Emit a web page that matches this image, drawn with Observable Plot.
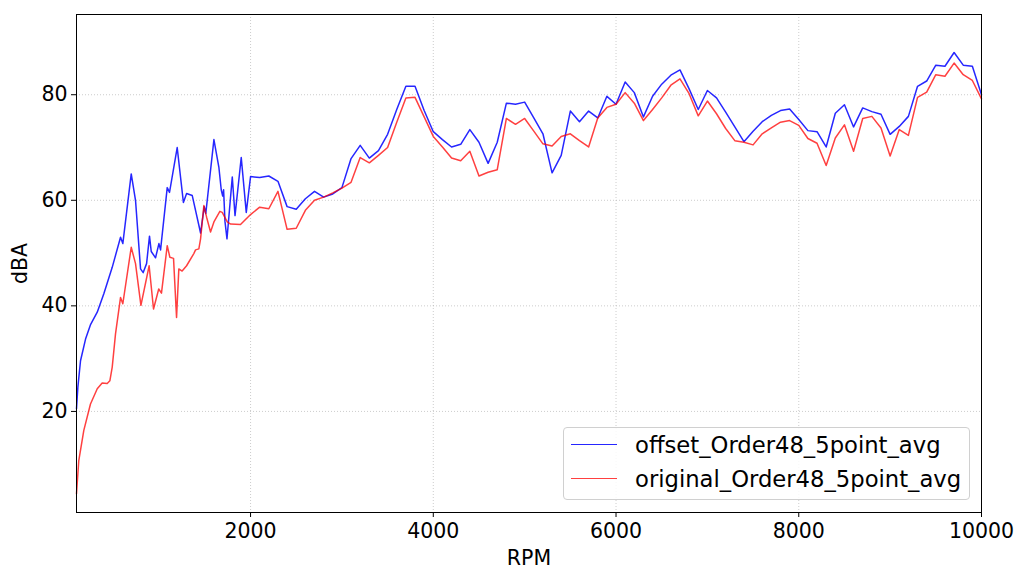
<!DOCTYPE html>
<html>
<head>
<meta charset="utf-8">
<script src="https://cdn.jsdelivr.net/npm/d3@7"></script>
<script src="https://cdn.jsdelivr.net/npm/@observablehq/plot@0.6"></script>
<style>
  html, body { margin: 0; padding: 0; background: #fff; }
  #wrap { position: relative; width: 1024px; height: 570px; font-family: "DejaVu Sans", sans-serif; }
  #legend { position: absolute; left: 563px; top: 427px; width: 407px; height: 73px;
    border: 1px solid #d0d0d0; border-radius: 4px; background: rgba(255,255,255,0.85); box-sizing: border-box; }
  .item { position: absolute; left: 0; height: 30px; width: 100%; }
  .swatch { position: absolute; left: 7px; top: 14px; width: 46px; height: 0; border-top: 1.5px solid; }
  .lab { position: absolute; left: 71px; top: 0; font-size: 22.7px; line-height: 30px; color: #000; white-space: nowrap; }
</style>
</head>
<body>
<div id="wrap"><div id="chart"></div><div id="legend"></div></div>
<script>
const seriesNames = ["offset_Order48_5point_avg", "original_Order48_5point_avg"];
const xTicks = [2000, 4000, 6000, 8000, 10000];
const yTicks = [20, 40, 60, 80];

// offset series, below 2000 RPM
const offsetLowRpm = [95, 110, 139, 194, 250, 322, 394, 486, 577, 602, 694, 741, 796, 825, 862, 894, 913, 960, 997, 1015, 1088, 1113, 1197, 1265, 1300, 1362, 1453, 1493, 1510, 1599, 1653, 1679, 1695, 1705, 1720, 1742, 1800, 1830, 1898, 1953];
const offsetLowDb  = [20.5, 24.6, 29.6, 33.7, 36.5, 38.8, 42.3, 47.3, 53.0, 51.8, 65.0, 60.0, 47.0, 46.3, 48.0, 53.2, 50.3, 49.1, 51.8, 50.6, 62.4, 61.5, 70.0, 59.6, 61.3, 60.9, 53.8, 58.8, 57.5, 71.5, 66.3, 62.0, 60.8, 62.0, 56.0, 52.7, 64.4, 57.1, 68.1, 57.7];

// original series, below 2000 RPM
const originalLowRpm = [95, 120, 175, 248, 322, 376, 431, 460, 486, 522, 577, 602, 694, 741, 800, 890, 938, 995, 1025, 1088, 1117, 1157, 1190, 1215, 1251, 1300, 1379, 1398, 1434, 1453, 1489, 1519, 1562, 1599, 1664, 1690, 1745, 1781, 1890];
const originalLowDb  = [4.4, 10.7, 16.4, 21.4, 24.3, 25.4, 25.3, 25.8, 28.4, 34.7, 41.6, 40.4, 51.1, 48.0, 40.1, 47.6, 39.4, 43.2, 42.4, 51.4, 49.2, 49.0, 37.8, 47.0, 46.6, 47.6, 49.9, 50.6, 50.8, 52.7, 59.0, 56.8, 54.0, 55.9, 57.9, 57.7, 55.9, 55.5, 55.4];

// both series, 2000–10000 RPM
const highRpm = [2000, 2100, 2200, 2300, 2400, 2500, 2600, 2700, 2800, 2900,
  3000, 3100, 3200, 3300, 3400, 3500, 3600, 3700, 3800, 3900,
  4000, 4100, 4200, 4300, 4400, 4500, 4600, 4700, 4800, 4900,
  5000, 5100, 5200, 5300, 5400, 5500, 5600, 5700, 5800, 5900,
  6000, 6100, 6200, 6300, 6400, 6500, 6600, 6700, 6800, 6900,
  7000, 7100, 7200, 7300, 7400, 7500, 7600, 7700, 7800, 7900,
  8000, 8100, 8200, 8300, 8400, 8500, 8600, 8700, 8800, 8900,
  9000, 9100, 9200, 9300, 9400, 9500, 9600, 9700, 9800, 9900, 10000];
const offsetHighDb = [64.5, 64.3, 64.6, 63.6, 58.8, 58.3, 60.3, 61.7, 60.6, 61.2,
  62.4, 67.9, 70.4, 68.0, 69.4, 72.5, 77.2, 81.6, 81.6, 77.0,
  73.0, 71.5, 70.1, 70.6, 73.4, 71.0, 67.0, 71.0, 78.4, 78.2,
  78.6, 75.6, 72.6, 65.2, 68.5, 76.9, 74.9, 76.9, 75.6, 79.7,
  78.2, 82.4, 80.4, 75.8, 79.7, 82.0, 83.7, 84.7, 81.1, 77.2,
  80.8, 79.4, 76.7, 73.9, 71.1, 73.1, 74.9, 76.1, 77.0, 77.3,
  75.3, 73.2, 73.0, 70.1, 76.5, 78.1, 73.9, 77.5, 76.8, 76.3,
  72.5, 74.0, 75.9, 81.6, 82.6, 85.6, 85.4, 88.0, 85.6, 85.4, 80.0];
const originalHighDb = [57.3, 58.7, 58.4, 61.7, 54.5, 54.7, 58.1, 60.0, 60.6, 61.4,
  62.3, 63.4, 68.1, 67.1, 68.5, 70.0, 74.8, 79.4, 79.5, 75.8,
  72.1, 70.1, 68.0, 67.5, 69.3, 64.6, 65.3, 65.8, 75.5, 74.4,
  75.5, 73.1, 70.7, 70.3, 72.1, 72.6, 71.3, 70.1, 75.6, 77.6,
  78.2, 80.4, 78.4, 75.1, 77.2, 79.4, 81.8, 83.0, 80.2, 76.0,
  78.8, 76.4, 73.6, 71.3, 71.0, 70.5, 72.6, 73.7, 74.8, 75.1,
  74.2, 71.7, 70.8, 66.6, 71.8, 74.3, 69.3, 75.5, 75.9, 73.7,
  68.4, 73.4, 72.3, 79.5, 80.5, 83.8, 83.5, 86.0, 83.8, 82.7, 79.2];

const colors = ["#0000ff", "#ff0000"];
const opac = [0.85, 0.75];

const toRows = (rpm, db) => rpm.map((r, i) => ({rpm: r, db: db[i]}));
const offsetData = toRows(offsetLowRpm.concat(highRpm), offsetLowDb.concat(offsetHighDb));
const originalData = toRows(originalLowRpm.concat(highRpm), originalLowDb.concat(originalHighDb));

const chart = Plot.plot({
  width: 1024,
  height: 570,
  marginLeft: 76,
  marginRight: 43,
  marginTop: 14,
  marginBottom: 58,
  style: {fontFamily: "DejaVu Sans", fontSize: "20.5px", color: "#000", background: "#fff"},
  x: {domain: [95, 10000]},
  y: {domain: [0.85, 95.2]},
  marks: [
    Plot.gridX(xTicks, {stroke: "#b0b0b0", strokeOpacity: 0.8, strokeDasharray: "1,2", strokeWidth: 0.8}),
    Plot.gridY(yTicks, {stroke: "#b0b0b0", strokeOpacity: 0.8, strokeDasharray: "1,2", strokeWidth: 0.8}),
    Plot.line(offsetData, {x: "rpm", y: "db", stroke: colors[0], strokeOpacity: opac[0], strokeWidth: 1.5}),
    Plot.line(originalData, {x: "rpm", y: "db", stroke: colors[1], strokeOpacity: opac[1], strokeWidth: 1.5}),
    Plot.frame({stroke: "#000", strokeWidth: 1}),
    Plot.axisX(xTicks, {tickSize: 5, tickPadding: 6, tickFormat: d => String(d), label: "RPM", labelAnchor: "center", labelArrow: "none", labelOffset: 52}),
    Plot.axisY(yTicks, {tickSize: 5, tickPadding: 4, tickFormat: d => String(d), label: "dBA", labelAnchor: "center", labelArrow: "none", labelOffset: 64})
  ]
});
document.getElementById("chart").appendChild(chart);

const legend = document.getElementById("legend");
seriesNames.forEach((name, i) => {
  const item = document.createElement("div");
  item.className = "item";
  item.style.top = (2 + i * 34) + "px";
  const sw = document.createElement("div");
  sw.className = "swatch";
  sw.style.borderColor = colors[i];
  sw.style.opacity = opac[i];
  const lab = document.createElement("div");
  lab.className = "lab";
  lab.textContent = name;
  item.appendChild(sw);
  item.appendChild(lab);
  legend.appendChild(item);
});
</script>
</body>
</html>
